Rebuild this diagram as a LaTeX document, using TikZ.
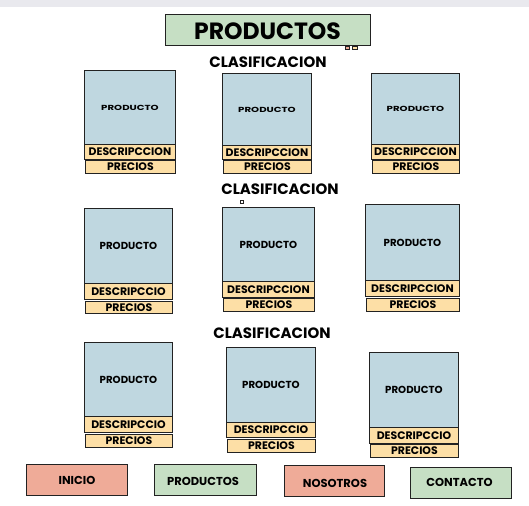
\documentclass[tikz,border=0pt]{standalone}
\usepackage{fontspec}
\setmainfont{Poppins}
\definecolor{prodblue}{HTML}{BFD7E0}
\definecolor{peach}{HTML}{FDDFA6}
\definecolor{softgreen}{HTML}{C6DFC4}
\definecolor{salmon}{HTML}{EFAB98}
\definecolor{topgray}{HTML}{E9E9EE}
\definecolor{edge}{HTML}{222222}
\tikzset{
  boxbase/.style={draw=edge, line width=0.9pt, inner sep=0pt, anchor=north west},
  prodbox/.style={boxbase, fill=prodblue},
  descbox/.style={boxbase, fill=peach},
  btn/.style={draw=edge, line width=0.9pt, inner sep=0pt},
  btntext/.style={font=\bfseries\fontsize{11.5}{12}\selectfont, inner sep=0pt},
  heading/.style={font=\bfseries\fontsize{15}{17}\selectfont, inner sep=0pt},
  labeltext/.style={font=\bfseries\fontsize{10.9}{12}\selectfont, inner sep=0pt}
}
% #1 name, #2 x1, #3 x2, #4 product top, #5 product bottom, #6 desc bottom, #7 precios top, #8 precios bottom, #9 desc text
\newcommand\card[9]{%
  \node[prodbox, minimum width={#3pt-#2pt}, minimum height={#5pt-#4pt}] (#1p) at (#2pt,-#4pt) {};
  \node[font=\bfseries\fontsize{10.2}{12}\selectfont, inner sep=0pt] at (#1p.center) {\scalebox{1}[\prodscale]{PRODUCTO}};
  \node[descbox, minimum width={#3pt-#2pt}, minimum height={#6pt-#5pt}] (#1d) at (#2pt,-#5pt) {};
  \node[labeltext] at (#1d.center) {#9};
  \node[descbox, minimum width={#3pt-#2pt-1pt}, minimum height={#8pt-#7pt}] (#1q) at (#2pt+1pt,-#7pt) {};
  \node[labeltext] at (#1q.center) {PRECIOS};
}
\begin{document}
\begin{tikzpicture}
\useasboundingbox (0,0) rectangle (529pt,-505pt);
\fill[white] (0,0) rectangle (529pt,-505pt);
\fill[topgray] (0,0) rectangle (529pt,-7pt);

% title
\node[draw=edge, line width=1pt, fill=softgreen, minimum width=205pt, minimum height=31pt, inner sep=0pt] (title) at (267.5pt,-30.5pt) {};
\node[font=\bfseries\fontsize{23.5}{25}\selectfont, inner sep=0pt] (titletext) at (267.5pt,-31pt) {PRODUCTOS};
\fill[salmon, draw=edge, line width=0.3pt] (345pt,-46.5pt) rectangle (349.5pt,-49.5pt);
\fill[peach, draw=edge, line width=0.3pt] (352.5pt,-46.5pt) rectangle (357.5pt,-49.5pt);

% headings
\node[heading] (h1) at (268pt,-62pt) {CLASIFICACION};
\node[heading] (h2) at (280pt,-189pt) {CLASIFICACION};
\node[heading] (h3) at (272pt,-333pt) {CLASIFICACION};
\draw[edge, line width=0.5pt, fill=white] (240.5pt,-200.5pt) rectangle (243pt,-203pt);

% cards row 1
\def\prodscale{0.72}
\card{a1}{84}{175}{70}{144}{159}{160}{173}{DESCRIPCCION}
\card{a2}{222}{311}{73}{145}{159}{160}{173}{DESCRIPCCION}
\card{a3}{371}{459}{73}{144}{159}{160}{173}{DESCRIPCCION}
% row 2
\def\prodscale{1}
\card{b1}{84}{172}{208}{283}{299}{301}{313}{DESCRIPCCIO}
\card{b2}{222}{314}{207}{281}{297}{298}{311}{DESCRIPCCION}
\card{b3}{365}{459}{204}{280}{296}{298}{311}{DESCRIPCCION}
% row 3
\card{c1}{84}{172}{342}{416}{432}{434}{447}{DESCRIPCCIO}
\card{c2}{226}{315}{347}{422}{437}{439}{452}{DESCRIPCCIO}
\card{c3}{369}{458}{352}{427}{443}{444}{457}{DESCRIPCCIO}

% bottom buttons
\node[btn, fill=salmon, minimum width=101pt, minimum height=31pt] (inicio) at (76.5pt,-480pt) {};
\node[btntext] at (77pt,-480pt) {INICIO};
\node[btn, fill=softgreen, minimum width=102pt, minimum height=31pt] (productos) at (205pt,-480pt) {};
\node[btntext] at (203pt,-481.7pt) {PRODUCTOS};
\node[btn, fill=salmon, minimum width=100pt, minimum height=31pt] (nosotros) at (334pt,-480.5pt) {};
\node[btntext] at (335pt,-483pt) {NOSOTROS};
\node[btn, fill=softgreen, minimum width=101pt, minimum height=31pt] (contacto) at (461pt,-483pt) {};
\node[btntext] at (459.5pt,-482pt) {CONTACTO};
\end{tikzpicture}
\end{document}
